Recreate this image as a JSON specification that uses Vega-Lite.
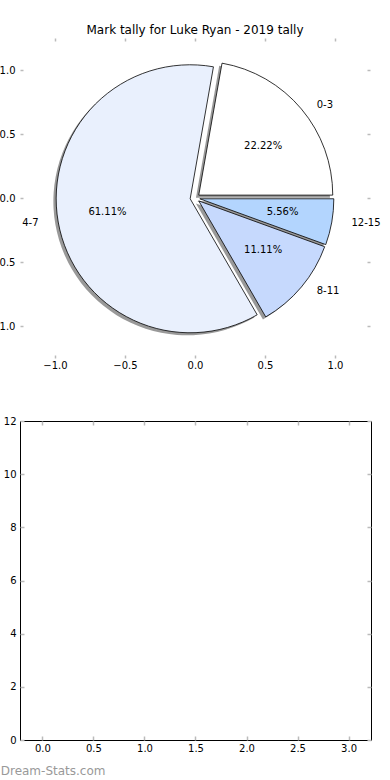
{
  "$schema": "https://vega.github.io/schema/vega-lite/v6.json",
  "background": "white",
  "padding": {"left": -10, "top": 24, "right": 0, "bottom": 0},
  "spacing": 45,
  "title": {"text": "Dream-Stats.com", "orient": "bottom", "anchor": "start", "font": "DejaVu Sans", "fontSize": 12, "fontWeight": "normal", "color": "#999999", "offset": 12, "dx": 10},
  "config": {
    "axis": {"labelFont": "DejaVu Sans", "labelFontSize": 10, "labelColor": "black", "tickColor": "#bbbbbb", "tickWidth": 1.5, "grid": false, "domain": false},
    "text": {"font": "DejaVu Sans", "fontSize": 10}
  },
  "vconcat": [
    {
      "title": {"text": "Mark tally for Luke Ryan - 2019 tally", "font": "DejaVu Sans", "fontSize": 12, "fontWeight": "normal", "offset": 0},
      "width": 350,
      "height": 320,
      "view": {"stroke": null},
      "data": {"values": [
        {"label": "0-3", "count": 4},
        {"label": "4-7", "count": 11},
        {"label": "8-11", "count": 2},
        {"label": "12-15", "count": 1}
      ]},
      "transform": [
        {"window": [{"op": "sum", "field": "count", "as": "cum"}], "frame": [null, 0]},
        {"joinaggregate": [{"op": "sum", "field": "count", "as": "total"}]},
        {"calculate": "2*PI*(datum.cum-datum.count)/datum.total", "as": "a0"},
        {"calculate": "2*PI*datum.cum/datum.total", "as": "a1"},
        {"calculate": "(datum.a0+datum.a1)/2", "as": "mid"},
        {"calculate": "PI/2-datum.a1", "as": "t0"},
        {"calculate": "PI/2-datum.a0", "as": "t1"},
        {"calculate": "0.035*cos(datum.mid)", "as": "cx"},
        {"calculate": "0.035*sin(datum.mid)", "as": "cy"},
        {"calculate": "datum.cx-0.02", "as": "sx"},
        {"calculate": "datum.cy-0.02", "as": "sy"},
        {"calculate": "datum.cx+0.6*cos(datum.mid)", "as": "px"},
        {"calculate": "datum.cy+0.6*sin(datum.mid)", "as": "py"},
        {"calculate": "datum.cx+1.1*cos(datum.mid)", "as": "lx"},
        {"calculate": "datum.cy+1.1*sin(datum.mid)", "as": "ly"},
        {"calculate": "format(datum.count/datum.total, '.2%')", "as": "pct"}
      ],
      "layer": [
        {
          "mark": {"type": "arc", "radius": 134, "fill": "#333333", "opacity": 0.5, "strokeWidth": 0},
          "encoding": {
            "x": {"field": "sx", "type": "quantitative", "scale": {"domain": [-1.25, 1.25], "nice": false, "zero": false},
                  "axis": {"orient": "bottom", "values": [-1, -0.5, 0, 0.5, 1], "format": ".1f", "tickSize": -3, "labelPadding": 5, "title": null}},
            "y": {"field": "sy", "type": "quantitative", "scale": {"domain": [-1.25, 1.25], "nice": false, "zero": false},
                  "axis": {"orient": "left", "values": [-1, -0.5, 0, 0.5, 1], "format": ".1f", "tickSize": -3, "labelPadding": 8, "title": null}},
            "theta": {"field": "t0", "type": "quantitative", "scale": null, "stack": null},
            "theta2": {"field": "t1"}
          }
        },
        {
          "mark": {"type": "arc", "radius": 134, "stroke": "black", "strokeWidth": 0.8},
          "encoding": {
            "x": {"field": "cx", "type": "quantitative", "axis": {"orient": "top", "values": [-1, -0.5, 0, 0.5, 1], "labels": false, "tickSize": -3, "title": null}},
            "y": {"field": "cy", "type": "quantitative", "axis": {"orient": "right", "values": [-1, -0.5, 0, 0.5, 1], "labels": false, "tickSize": -3, "title": null}},
            "theta": {"field": "t0", "type": "quantitative", "scale": null, "stack": null},
            "theta2": {"field": "t1"},
            "color": {"field": "label", "type": "nominal", "scale": {"domain": ["0-3", "4-7", "8-11", "12-15"], "range": ["#ffffff", "#e9f0fd", "#c6d9fd", "#b3d5fe"]}, "legend": null}
          }
        },
        {
          "mark": {"type": "text", "align": "center", "baseline": "middle", "color": "black"},
          "encoding": {
            "x": {"field": "px", "type": "quantitative", "axis": null},
            "y": {"field": "py", "type": "quantitative", "axis": null},
            "text": {"field": "pct"}
          }
        },
        {
          "transform": [{"filter": "cos(datum.mid) >= 0"}],
          "mark": {"type": "text", "align": "left", "baseline": "middle", "color": "black"},
          "encoding": {
            "x": {"field": "lx", "type": "quantitative", "axis": null},
            "y": {"field": "ly", "type": "quantitative", "axis": null},
            "text": {"field": "label"}
          }
        },
        {
          "transform": [{"filter": "cos(datum.mid) < 0"}],
          "mark": {"type": "text", "align": "right", "baseline": "middle", "color": "black"},
          "encoding": {
            "x": {"field": "lx", "type": "quantitative", "axis": null},
            "y": {"field": "ly", "type": "quantitative", "axis": null},
            "text": {"field": "label"}
          }
        }
      ],
      "resolve": {"axis": {"x": "independent", "y": "independent"}}
    },
    {
      "width": 351,
      "height": 319,
      "view": {"stroke": "black", "strokeWidth": 1},
      "data": {"values": []},
      "layer": [
        {
          "mark": {"type": "point", "opacity": 0},
          "encoding": {
            "x": {"field": "x", "type": "quantitative", "scale": {"domain": [-0.22, 3.22], "nice": false, "zero": false},
                  "axis": {"orient": "bottom", "values": [0, 0.5, 1, 1.5, 2, 2.5, 3], "format": ".1f", "tickSize": -4, "labelPadding": 7, "title": null}},
            "y": {"field": "y", "type": "quantitative", "scale": {"domain": [0, 12], "nice": false, "zero": false},
                  "axis": {"orient": "left", "values": [0, 2, 4, 6, 8, 10, 12], "format": "d", "tickSize": -4, "labelPadding": 8, "title": null}}
          }
        },
        {
          "mark": {"type": "point", "opacity": 0},
          "encoding": {
            "x": {"field": "x", "type": "quantitative", "axis": {"orient": "top", "values": [0, 0.5, 1, 1.5, 2, 2.5, 3], "labels": false, "tickSize": -4, "title": null}},
            "y": {"field": "y", "type": "quantitative", "axis": {"orient": "right", "values": [0, 2, 4, 6, 8, 10, 12], "labels": false, "tickSize": -4, "title": null}}
          }
        }
      ],
      "resolve": {"axis": {"x": "independent", "y": "independent"}}
    }
  ]
}
